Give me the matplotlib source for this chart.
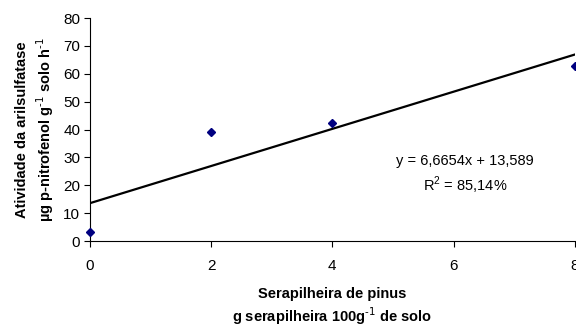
import numpy as np
import matplotlib
matplotlib.use("Agg")
import matplotlib.pyplot as plt

# data
litter_dose = [0, 2, 4, 8]
arylsulfatase = [3.3, 39.3, 42.2, 62.8]
slope, intercept = 6.6654, 13.589
x_ticks = [0, 2, 4, 6, 8]
y_ticks = [0, 10, 20, 30, 40, 50, 60, 70, 80]

plt.rcParams["font.family"] = ["Liberation Sans", "DejaVu Sans"]

fig = plt.figure(figsize=(5.76, 3.28), dpi=100)
ax = fig.add_axes([0.156, 0.265, 0.842, 0.68])

xfit = np.array([litter_dose[0], litter_dose[-1]])
ax.plot(xfit, slope * xfit + intercept, color="black", linewidth=1.6, zorder=2)
ax.plot(litter_dose, arylsulfatase, linestyle="none", marker="D", markersize=4.5,
        color="#000080", zorder=3, clip_on=False)

ax.set_xlim(0, 8)
ax.set_ylim(0, 80)
ax.set_xticks(x_ticks)
ax.set_yticks(y_ticks)
ax.tick_params(direction="out", length=4, width=0.8, labelsize=11, pad=9)
ax.tick_params(axis="y", pad=3)
for s in ["top", "right"]:
    ax.spines[s].set_visible(False)
for s in ["left", "bottom"]:
    ax.spines[s].set_linewidth(0.8)

sup = "$^{\\text{-}1}$"
ax.set_xlabel(f"Serapilheira de pinus\ng serapilheira 100g{sup} de solo",
              fontsize=10.5, fontweight="bold", labelpad=10, linespacing=1.25)
ax.set_ylabel(f"Atividade da arilsulfatase\nµg p-nitrofenol g{sup} solo h{sup}",
              fontsize=10.5, fontweight="bold", labelpad=5, linespacing=1.35)

ax.text(6.19, 28.6, f"y = {slope:.4f}x + {intercept:.3f}".replace(".", ","),
        ha="center", va="center", fontsize=10.5)
ax.text(6.19, 20.0, "R$^{\\mathregular{2}}$ = 85,14%", ha="center", va="center", fontsize=10.5)

fig.savefig("out.png", dpi=100)
